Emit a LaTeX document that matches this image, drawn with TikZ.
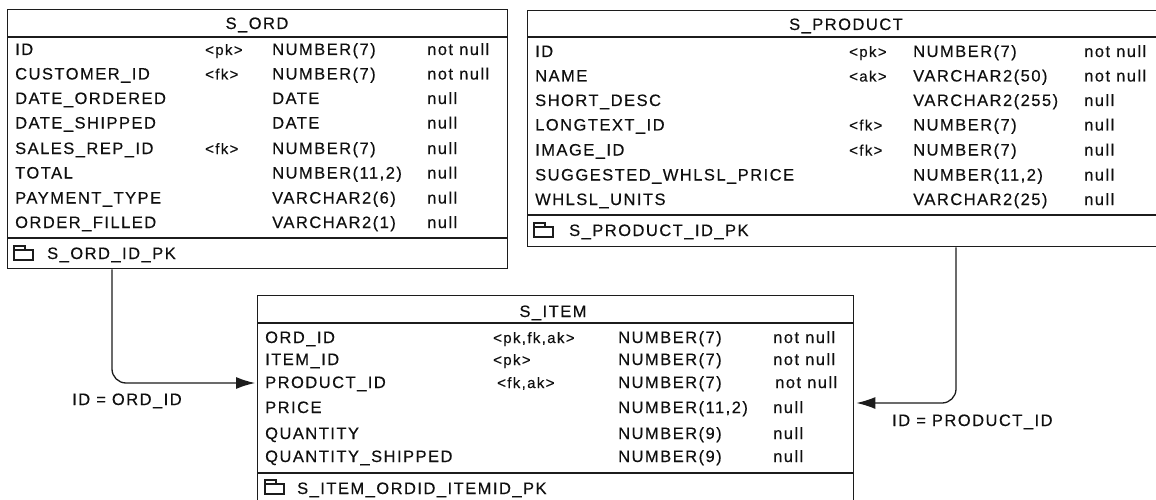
\documentclass[tikz,border=0pt]{standalone}
\usepackage{fontspec}
\setmainfont{Liberation Sans}[LetterSpace=9, FakeBold=0.3]
\usetikzlibrary{arrows.meta}

\definecolor{inkline}{RGB}{28,28,28}
\definecolor{inktext}{RGB}{15,15,15}

\tikzset{
  ink/.style={draw=inkline, line width=1.4pt},
  tbl/.style={ink, rectangle, inner sep=0pt, anchor=north west},
  cell/.style={anchor=base west, inner sep=0pt, text=inktext,
    font=\fontsize{16.5pt}{19pt}\selectfont},
  keycell/.style={cell, font=\fontsize{15pt}{18pt}\selectfont},
  title/.style={cell, anchor=base},
  rel/.style={ink, line width=1.3pt, rounded corners=14pt,
    -{Latex[length=19pt,width=12pt]}, shorten >=2pt},
  pkicon/.pic={
    \draw[line width=1.2pt, draw=inkline]
      (0,14) -- (0,0) -- (11,0) -- (11,4) -- (19,4) -- (19,14) -- cycle;
    \draw[line width=1.2pt, draw=inkline] (0,4) -- (11,4);
  },
}

% baseline sits a little below the row centre
\newcommand{\bl}{6}
% one column row of a table: prefix, y, name, key, type, nullability
\newcommand{\fieldrow}[6]{%
  \node[cell] (#1-n) at (\xName,#2+\bl) {#3};
  \if\relax\detokenize{#4}\relax\else
    \node[keycell] (#1-k) at (\xKey,#2+\bl) {#4};
  \fi
  \node[cell] (#1-t) at (\xType,#2+\bl) {#5};
  \node[cell] (#1-u) at (\xNull,#2+\bl) {#6};
}

\begin{document}
\begin{tikzpicture}[x=1pt, y=-1pt]
\useasboundingbox (0,0) rectangle (1156,500);
\clip (0,0) rectangle (1156,500);
\fill[white] (0,0) rectangle (1156,500);

% ---------------- S_ORD ----------------
\node[tbl, minimum width=500pt, minimum height=259pt] (sord) at (7,9) {};
\draw[ink] (7,37) -- (507,37);
\draw[ink] (7,238) -- (507,238);
\node[title] (sord-title) at (257,23+\bl) {S\_ORD};
\def\xName{15}\def\xKey{205}\def\xType{272}\def\xNull{427}
\fieldrow{sord-r1}{49}{ID}{<pk>}{NUMBER(7)}{not null}
\fieldrow{sord-r2}{73.5}{CUSTOMER\_ID}{<fk>}{NUMBER(7)}{not null}
\fieldrow{sord-r3}{98}{DATE\_ORDERED}{}{DATE}{null}
\fieldrow{sord-r4}{122.5}{DATE\_SHIPPED}{}{DATE}{null}
\fieldrow{sord-r5}{148}{SALES\_REP\_ID}{<fk>}{NUMBER(7)}{null}
\fieldrow{sord-r6}{172.5}{TOTAL}{}{NUMBER(11,2)}{null}
\fieldrow{sord-r7}{197.5}{PAYMENT\_TYPE}{}{VARCHAR2(6)}{null}
\fieldrow{sord-r8}{222}{ORDER\_FILLED}{}{VARCHAR2(1)}{null}
\pic at (14,246) {pkicon};
\node[cell] (sord-pk) at (47,253+\bl) {S\_ORD\_ID\_PK};

% ---------------- S_PRODUCT ----------------
\node[tbl, minimum width=638pt, minimum height=236pt] (sprod) at (527,10) {};
\draw[ink] (527,37) -- (1165,37);
\draw[ink] (527,215) -- (1165,215);
\node[title] (sprod-title) at (846,24+\bl) {S\_PRODUCT};
\def\xName{535}\def\xKey{849}\def\xType{913}\def\xNull{1084}
\fieldrow{sprod-r1}{51}{ID}{<pk>}{NUMBER(7)}{not null}
\fieldrow{sprod-r2}{75.5}{NAME}{<ak>}{VARCHAR2(50)}{not null}
\fieldrow{sprod-r3}{100}{SHORT\_DESC}{}{VARCHAR2(255)}{null}
\fieldrow{sprod-r4}{124.5}{LONGTEXT\_ID}{<fk>}{NUMBER(7)}{null}
\fieldrow{sprod-r5}{149.5}{IMAGE\_ID}{<fk>}{NUMBER(7)}{null}
\fieldrow{sprod-r6}{174.5}{SUGGESTED\_WHLSL\_PRICE}{}{NUMBER(11,2)}{null}
\fieldrow{sprod-r7}{199}{WHLSL\_UNITS}{}{VARCHAR2(25)}{null}
\pic at (534,223) {pkicon};
\node[cell] (sprod-pk) at (569,230+\bl) {S\_PRODUCT\_ID\_PK};

% ---------------- S_ITEM ----------------
\node[tbl, minimum width=596pt, minimum height=225pt] (item) at (257,295) {};
\draw[ink] (257,323) -- (853,323);
\draw[ink] (257,473) -- (853,473);
\node[title] (item-title) at (553,311+\bl) {S\_ITEM};
\def\xName{265}\def\xKey{493}\def\xType{618}\def\xNull{773}
\fieldrow{item-r1}{337}{ORD\_ID}{<pk,fk,ak>}{NUMBER(7)}{not null}
\fieldrow{item-r2}{359}{ITEM\_ID}{<pk>}{NUMBER(7)}{not null}
\def\xKey{497}\def\xNull{775}
\fieldrow{item-r3}{382}{PRODUCT\_ID}{<fk,ak>}{NUMBER(7)}{not null}
\def\xKey{493}\def\xNull{773}
\fieldrow{item-r4}{407}{PRICE}{}{NUMBER(11,2)}{null}
\fieldrow{item-r5}{433}{QUANTITY}{}{NUMBER(9)}{null}
\fieldrow{item-r6}{456}{QUANTITY\_SHIPPED}{}{NUMBER(9)}{null}
\pic at (265,480) {pkicon};
\node[cell] (item-pk) at (297,488+\bl) {S\_ITEM\_ORDID\_ITEMID\_PK};

% ---------------- references ----------------
\coordinate (ordx) at (112,0);
\coordinate (ordy) at (0,383);
\draw[rel] (sord.south -| ordx) |- (item.west |- ordy);
\node[cell] (ref1) at (72,399+\bl) {ID = ORD\_ID};

\coordinate (prodx) at (956,0);
\coordinate (prody) at (0,403);
\draw[rel] (sprod.south -| prodx) |- (item.east |- prody);
\node[cell] (ref2) at (892,420+\bl) {ID = PRODUCT\_ID};
\end{tikzpicture}
\end{document}
